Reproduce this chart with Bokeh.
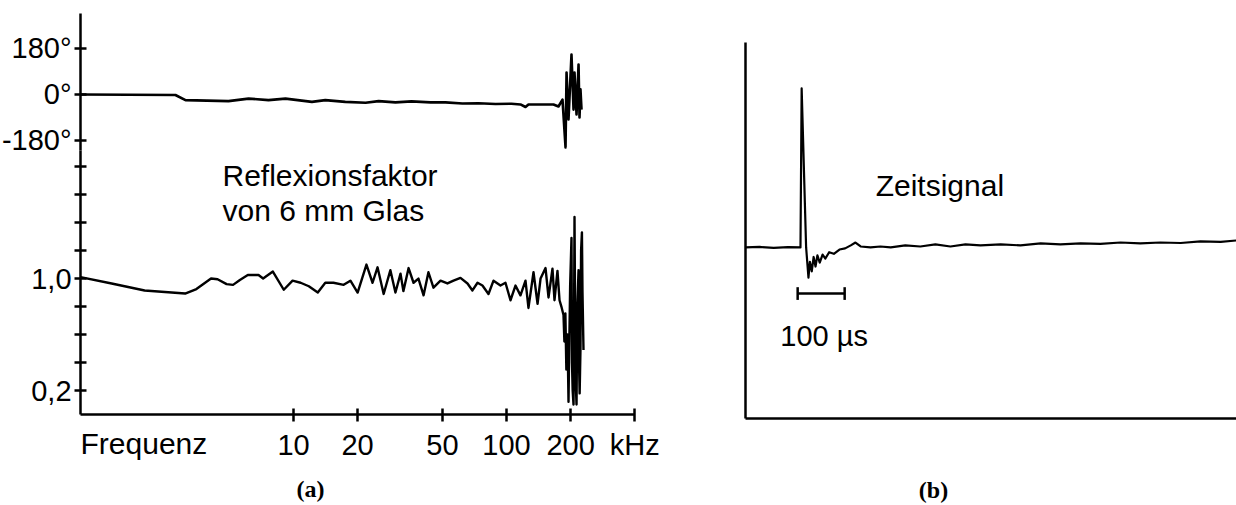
from bokeh.plotting import figure
from bokeh.layouts import row
from bokeh.models import Range1d, FixedTicker, Label, LinearAxis, LogAxis
from bokeh.embed import file_html
from bokeh.resources import INLINE

# ---------------- data ----------------
phase_freq_khz = [1.0, 2.79, 3.11, 4.95, 6.15, 7.63, 9.17, 12.2, 14.1, 17.5, 21.8, 25.1,
                  30.1, 35.8, 44.0, 51.7, 62.1, 73.9, 88.8, 105.5, 116.3, 122.8, 126.8,
                  144.5, 166.2, 175.4, 183.2, 189.3, 191.4, 195.5, 201.9, 206.4, 208.6,
                  213.2, 217.9, 220.2, 222.5, 225.0]
phase_deg = [0, -2, -22, -26, -16, -22, -16, -29, -22, -29, -32, -26,
             -31, -27, -31, -31, -35, -34, -37, -36, -39, -49, -39,
             -39, -39, -47, -20, -207, 86, -98, 156, -59, 86,
             -78, 117, -90, 20, -59]

mag_freq_khz = [1.0, 1.4, 2.0, 3.1, 3.5, 4.1, 4.4, 4.85, 5.2, 5.6, 6.1, 6.85, 7.2, 8.0, 9.0,
                9.9, 10.8, 11.8, 13.0, 14.1, 15.4, 17.2, 18.5, 20.0, 22.0, 23.5, 24.8, 26.5,
                28.5, 30.1, 31.8, 32.8, 34.7, 36.6, 38.6, 40.8, 43.0, 45.4, 49.0, 52.8, 56.4,
                60.8, 65.6, 69.2, 73.1, 77.1, 82.3, 86.9, 93.7, 98.9, 104.4, 110.2, 116.3,
                122.8, 126.8, 133.9, 139.9, 144.5, 152.5, 157.5, 164.4, 168.0, 173.5, 177.4,
                181.0, 185.2, 187.0, 189.0, 191.0, 193.4, 195.5, 197.0, 199.0, 201.9, 203.0,
                204.5, 206.4, 207.5, 208.6, 210.0, 211.5, 213.2, 215.0, 217.9, 219.0, 220.5,
                222.5, 224.0, 226.0, 227.4, 229.9]
mag_value = [1.01, 0.965, 0.915, 0.893, 0.925, 1.0, 0.995, 0.96, 0.955, 0.99, 1.025, 1.025, 1.0,
             1.05, 0.92, 0.985, 0.97, 0.945, 0.90, 0.97, 0.97, 0.955, 0.985, 0.90, 1.10, 0.97,
             1.08, 0.89, 1.06, 0.90, 1.035, 0.91, 1.075, 0.97, 1.0, 0.88, 1.045, 0.935, 0.985,
             0.965, 0.985, 1.005, 0.965, 0.915, 0.97, 0.95, 0.89, 0.985, 0.95, 0.97, 0.845, 0.95,
             0.88, 0.985, 0.79, 1.045, 0.82, 1.0, 1.075, 0.865, 1.07, 0.845, 1.055, 0.845,
             0.80, 0.74, 0.55, 0.75, 0.35, 0.60, 0.12, 0.50, 0.95, 1.29, 0.40,
             0.20, 0.10, 0.60, 1.44, 0.70, 0.25, 0.10, 0.80, 1.06, 0.40, 0.18,
             0.50, 1.20, 1.33, 0.90, 0.49]

time_us = [0, 30, 60, 90, 117, 119.5, 129, 134, 137, 141, 145, 149, 153, 158, 164, 170, 178,
           188, 200, 212, 224, 234, 245, 266, 287, 309, 340, 372, 404, 436, 468, 500, 543,
           585, 628, 670, 713, 755, 798, 840, 883, 926, 968, 1011, 1045]
signal = [0, 0.003, -0.003, 0.002, 0, 1.0, 0.0, -0.19, -0.09, -0.15, -0.06, -0.12, -0.05,
          -0.095, -0.045, -0.07, -0.03, -0.04, -0.013, -0.006, 0.013, 0.031, 0.006, 0,
          0.006, 0, 0.013, 0.006, 0.019, 0.006, 0.019, 0.013, 0.019, 0.013, 0.025, 0.019,
          0.025, 0.022, 0.031, 0.025, 0.031, 0.028, 0.038, 0.035, 0.044]

x_tick_values = [10, 20, 50, 100, 200, 400]
x_tick_labels = ["10", "20", "50", "100", "200", "kHz"]
phase_tick_values = [-180, 0, 180]
phase_tick_labels = ["-180°", "0°", "180°"]
mag_tick_values = [0.2, 1.0]
mag_tick_labels = ["0,2", "1,0"]
mag_minor_ticks = [0.4, 0.6, 0.8, 1.2, 1.4, 1.6, 1.8]
freq_axis_khz = (1, 400)
mag_axis_span = (0.029, 1.914)
phase_axis_span = (-219, 317)
scalebar_start_us = 111
scalebar_length_us = 100

# ---------------- style ----------------
FONT = "Liberation Sans"
AX_W = 2.5
NUM_SIZE = "29px"
TXT_SIZE = "30px"


def style_axis(ax, tick_in=6, tick_out=6, standoff=3):
    ax.axis_line_width = AX_W
    ax.axis_line_color = "black"
    ax.major_tick_line_width = AX_W
    ax.minor_tick_line_width = AX_W
    ax.major_tick_line_color = "black"
    ax.minor_tick_line_color = "black"
    ax.major_tick_in = tick_in
    ax.major_tick_out = tick_out
    ax.minor_tick_in = tick_in
    ax.minor_tick_out = tick_out
    ax.major_label_text_font = FONT
    ax.major_label_text_font_size = NUM_SIZE
    ax.major_label_text_color = "black"
    ax.major_label_standoff = standoff


def base(fig):
    fig.grid.visible = False
    fig.outline_line_color = None
    fig.background_fill_color = "white"
    fig.border_fill_color = "white"
    fig.min_border_left = 0
    fig.min_border_right = 0
    fig.min_border_top = 0
    fig.min_border_bottom = 0


def label(fig, x, y, text, size=TXT_SIZE, align="left", baseline="alphabetic",
          font=FONT, style="normal", **kw):
    fig.add_layout(Label(x=x, y=y, text=text, text_font=font, text_font_size=size,
                         text_font_style=style, text_color="black",
                         text_align=align, text_baseline=baseline, **kw))


# ---- left panel: phase + magnitude of the reflection factor ----
lp = figure(width=708, height=505, x_axis_type="log",
            x_range=Range1d(0.421, 888.0), y_range=Range1d(-0.621, 2.986),
            x_axis_location=None, y_axis_location=None,
            output_backend="svg", toolbar_location=None)
base(lp)
lp.extra_y_ranges = {"phase": Range1d(-1608.2, 367.8)}

lp.line(phase_freq_khz, phase_deg, y_range_name="phase",
        line_width=2.6, color="black", line_join="round")
lp.line(mag_freq_khz, mag_value, line_width=2.4, color="black", line_join="round")

ax_mag = LinearAxis(fixed_location=freq_axis_khz[0], bounds=mag_axis_span,
                    ticker=FixedTicker(ticks=mag_tick_values, minor_ticks=mag_minor_ticks),
                    major_label_overrides=dict(zip(mag_tick_values, mag_tick_labels)))
style_axis(ax_mag)
lp.add_layout(ax_mag, "left")

ax_ph = LinearAxis(y_range_name="phase", fixed_location=freq_axis_khz[0], bounds=phase_axis_span,
                   ticker=FixedTicker(ticks=phase_tick_values, minor_ticks=[]),
                   major_label_overrides=dict(zip(phase_tick_values, phase_tick_labels)))
style_axis(ax_ph)
lp.add_layout(ax_ph, "left")

ax_f = LogAxis(fixed_location=mag_axis_span[0], bounds=freq_axis_khz,
               ticker=FixedTicker(ticks=x_tick_values, minor_ticks=[]),
               major_label_overrides=dict(zip(x_tick_values, x_tick_labels)))
style_axis(ax_f, tick_in=6, tick_out=7, standoff=8)
lp.add_layout(ax_f, "below")

label(lp, 4.64, 1.736, "Reflexionsfaktor")
label(lp, 4.64, 1.486, "von 6 mm Glas")
label(lp, 1.0, -0.179, "Frequenz")
label(lp, 12.0, -0.50, "(a)", size="24px", align="center", baseline="middle",
      font="Liberation Serif", style="bold")

# ---- right panel: time signal ----
rp = figure(width=528, height=505, x_range=Range1d(-78.7, 1044.7), y_range=Range1d(-1.623, 1.553),
            x_axis_location=None, y_axis_location=None,
            output_backend="svg", toolbar_location=None)
base(rp)
rp.line(time_us, signal, line_width=2.2, color="black", line_join="round")

ax_t = LinearAxis(fixed_location=-1.075, bounds=(0, 1044.7),
                  ticker=FixedTicker(ticks=[], minor_ticks=[]))
ax_s = LinearAxis(fixed_location=0, bounds=(-1.075, 1.289),
                  ticker=FixedTicker(ticks=[], minor_ticks=[]))
for ax in (ax_t, ax_s):
    ax.axis_line_width = AX_W
    ax.axis_line_color = "black"
    ax.major_tick_line_color = None
    ax.minor_tick_line_color = None
rp.add_layout(ax_t, "below")
rp.add_layout(ax_s, "left")

sb_y = -0.29
sb_x = [scalebar_start_us, scalebar_start_us + scalebar_length_us]
rp.line(sb_x, [sb_y, sb_y], line_width=2.5, color="black")
rp.segment(x0=sb_x, y0=[sb_y - 0.04] * 2, x1=sb_x, y1=[sb_y + 0.04] * 2,
           line_width=2.5, color="black")

label(rp, 277, 0.39, "Zeitsignal")
label(rp, 74, -0.56, "100 µs", size=NUM_SIZE)
label(rp, 400, -1.528, "(b)", size="24px", align="center", baseline="middle",
      font="Liberation Serif", style="bold")

layout = row(lp, rp)
open("out.html", "w").write(file_html(layout, INLINE))
